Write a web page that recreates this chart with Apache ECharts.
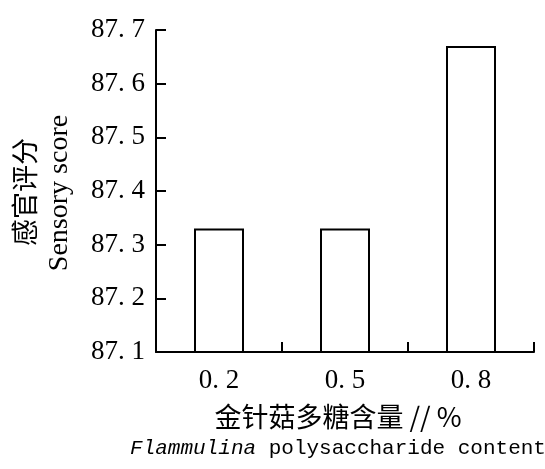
<!DOCTYPE html>
<html>
<head>
<meta charset="utf-8">
<script src="https://cdn.jsdelivr.net/npm/echarts@6/dist/echarts.min.js"></script>
<style>html,body{margin:0;padding:0;background:#fff;}#c{width:545px;height:469px;}</style>
</head>
<body>
<div id="c"></div>
<script>
const categories = ['0.2', '0.5', '0.8'];
const scores = [87.33, 87.33, 87.67];
const yTicks = { min: 87.1, max: 87.7, interval: 0.1 };
const yTitleCn = '感官评分';
const yTitleEn = 'Sensory score';
const xTitleCn = '金针菇多糖含量 // %';
const xTitleEnItalic = 'Flammulina';
const xTitleEnRest = ' polysaccharide content';

const chart = echarts.init(document.getElementById('c'), null, { renderer: 'canvas' });
const serif = '"Liberation Serif", "DejaVu Serif", serif';
chart.setOption({
  animation: false,
  backgroundColor: '#fff',
  grid: { left: 156, right: 11, top: 30, bottom: 117 },
  xAxis: {
    type: 'category',
    data: categories,
    boundaryGap: true,
    axisLine: { show: true, lineStyle: { color: '#000', width: 2 } },
    axisTick: { show: true, inside: true, length: 10, interval: 0, alignWithLabel: false, lineStyle: { color: '#000', width: 2 } },
    axisLabel: {
      color: '#000', fontFamily: serif, fontSize: 27, margin: 15,
      formatter: v => v.replace('.', '. ')
    },
    splitLine: { show: false }
  },
  yAxis: {
    type: 'value',
    position: 'left',
    min: yTicks.min, max: yTicks.max, interval: yTicks.interval,
    axisLine: { show: true, onZero: false, lineStyle: { color: '#000', width: 2 } },
    axisTick: { show: true, inside: true, length: 10, lineStyle: { color: '#000', width: 2 } },
    axisLabel: {
      color: '#000', fontFamily: serif, fontSize: 27, margin: 11,
      formatter: v => v.toFixed(1).replace('.', '. ')
    },
    splitLine: { show: false }
  },
  series: [{
    type: 'bar',
    data: scores,
    barWidth: 50,
    itemStyle: { color: '#fff', borderColor: '#000', borderWidth: 2 }
  }],
  graphic: [
    {
      type: 'text', x: 25, y: 192, rotation: Math.PI / 2,
      style: { text: yTitleCn, font: '27px "Noto Sans CJK SC", sans-serif', fill: '#000', align: 'center', verticalAlign: 'middle' }
    },
    {
      type: 'text', x: 60, y: 193, rotation: Math.PI / 2,
      style: { text: yTitleEn, font: '28px ' + serif, fill: '#000', align: 'center', verticalAlign: 'middle' }
    },
    {
      type: 'text', x: 338, y: 417,
      style: { text: xTitleCn, font: '27px "Noto Sans CJK SC", sans-serif', fill: '#000', align: 'center', verticalAlign: 'middle' }
    },
    {
      type: 'text', x: 338, y: 448,
      style: {
        text: '{i|' + xTitleEnItalic + '}{r|' + xTitleEnRest + '}',
        align: 'center', verticalAlign: 'middle', fill: '#000',
        rich: {
          i: { font: 'italic 21px "Liberation Mono", monospace', fill: '#000' },
          r: { font: '21px "Liberation Mono", monospace', fill: '#000' }
        }
      }
    }
  ]
});
</script>
</body>
</html>
